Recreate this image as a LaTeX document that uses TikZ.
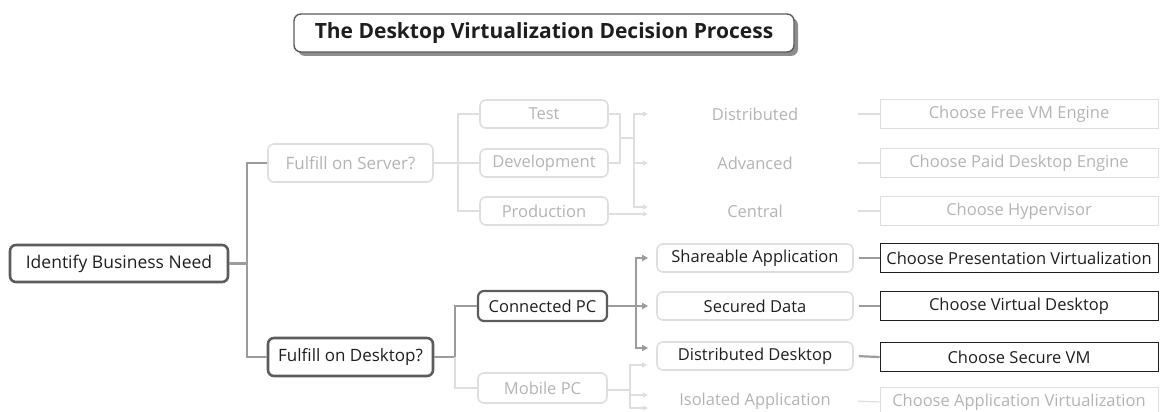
\documentclass[tikz,border=0pt]{standalone}
\usepackage{fontspec}
\setmainfont{Open Sans}
\usetikzlibrary{arrows.meta,shadows}
\definecolor{ink}{HTML}{1E1E1E}
\definecolor{frame}{HTML}{5C5C5C}
\definecolor{wirec}{HTML}{9C9C9C}
\definecolor{pale}{HTML}{DEDEDE}
\definecolor{paletext}{HTML}{B3B3B3}
\tikzset{
 box/.style={rounded corners=6pt,align=center,inner sep=0pt,font=\fontsize{16.5}{19}\selectfont},
 hub/.style={box,draw=frame,line width=2.6pt,text=ink},
 opt/.style={box,draw=pale,line width=1.6pt,text=ink,minimum width=196pt,minimum height=28pt},
 faint/.style={box,draw=pale,line width=1.6pt,text=paletext},
 ghost/.style={box,text=paletext,minimum width=196pt,minimum height=28pt},
 pick/.style={draw=ink,line width=0.9pt,minimum width=278pt,minimum height=29pt,inner sep=0pt,font=\fontsize{16.5}{19}\selectfont,text=ink},
 pickfaint/.style={pick,draw=pale,text=paletext},
 wire/.style={draw=wirec,line width=2.2pt},
 wirefaint/.style={draw=pale,line width=1.2pt},
 arr/.style={wire,-{Triangle[length=6pt,width=6pt]},shorten >=8pt},
 arrfaint/.style={wirefaint,-{Triangle[length=5pt,width=5pt]},shorten >=9pt}}
\begin{document}
\begin{tikzpicture}[x=1pt,y=-1pt]
\useasboundingbox (0,0) rectangle (1160,412);
\node[draw=frame,line width=1.4pt,rounded corners=7pt,fill=white,minimum width=500pt,minimum height=38pt,drop shadow={shadow xshift=4pt,shadow yshift=-4pt,fill=frame!70,opacity=1},font=\bfseries\fontsize{21}{24}\selectfont,text=ink] (title) at (544,33) {The Desktop Virtualization Decision Process};

\node[hub,minimum width=218pt,minimum height=37pt,font=\fontsize{17.5}{20}\selectfont] (need) at (119,263.5) {Identify Business Need};
\node[faint,minimum width=165pt,minimum height=38pt,font=\fontsize{17}{20}\selectfont] (server) at (350.5,163) {Fulfill on Server?};
\node[hub,minimum width=165pt,minimum height=38pt,font=\fontsize{17}{20}\selectfont] (desktop) at (350.5,357) {Fulfill on Desktop?};

\node[faint,minimum width=128pt,minimum height=28pt] (test) at (544,114) {Test};
\node[faint,minimum width=128pt,minimum height=28pt] (devel) at (544,163) {Development};
\node[faint,minimum width=128pt,minimum height=28pt] (prod) at (544,211) {Production};
\node[ghost] (distr) at (755,114) {Distributed};
\node[ghost] (adv) at (755,163) {Advanced};
\node[ghost] (central) at (755,211) {Central};
\node[pickfaint] (freevm) at (1019,114) {Choose Free VM Engine};
\node[pickfaint] (paid) at (1019,163) {Choose Paid Desktop Engine};
\node[pickfaint] (hyper) at (1019,211) {Choose Hypervisor};

\node[hub,line width=2.2pt,minimum width=129pt,minimum height=30pt] (conn) at (542.5,306) {Connected PC};
\node[faint,minimum width=129pt,minimum height=30pt] (mobile) at (542.5,388) {Mobile PC};
\node[opt] (share) at (755,258) {Shareable Application};
\node[opt] (secured) at (755,306) {Secured Data};
\node[opt] (ddesk) at (755,356) {Distributed Desktop};
\node[ghost] (isolated) at (755,401) {Isolated Application};
\node[pick] (present) at (1019,258) {Choose Presentation Virtualization};
\node[pick] (vdesk) at (1019,306) {Choose Virtual Desktop};
\node[pick] (securevm) at (1019,357) {Choose Secure VM};
\node[pickfaint] (appvirt) at (1019,402) {Choose Application Virtualization};

\coordinate (rootfork) at (247,263.5);
\coordinate (srvsplit) at (458,163);
\coordinate (dsksplit) at (455,357);
\coordinate (srvjoin) at (620,138);
\coordinate (srvfork) at (634,138);
\coordinate (connfork) at (636,306);
\coordinate (mobfork) at (630,390);

\draw[wire] (need.east) -- (rootfork);
\draw[wire] (rootfork) |- (server.west);
\draw[wire] (rootfork) |- (desktop.west);

\draw[wirefaint] (server.east) -- (srvsplit);
\draw[wirefaint] (srvsplit) |- (test.west);
\draw[wirefaint] (srvsplit) -- (devel.west);
\draw[wirefaint] (srvsplit) |- (prod.west);
\draw[wirefaint] (test.east) -| (srvjoin);
\draw[wirefaint] (devel.east) -| (srvjoin);
\draw[wirefaint] (srvjoin) -- (srvfork);
\draw[arrfaint] (srvfork) |- (distr.west);
\draw[arrfaint] (srvfork) |- (adv.west);
\draw[arrfaint] (srvfork) |- ([yshift=4pt]central.west);
\draw[arrfaint] ([yshift=-3pt]prod.east) -- ([yshift=-3pt]central.west);
\draw[wirefaint,shorten <=5pt] (distr.east) -- (freevm.west);
\draw[wirefaint,shorten <=5pt] (adv.east) -- (paid.west);
\draw[wirefaint,shorten <=5pt] (central.east) -- (hyper.west);

\draw[wire] (desktop.east) -- (dsksplit);
\draw[wire] (dsksplit) |- (conn.west);
\draw[wirefaint] (dsksplit) |- (mobile.west);
\draw[wire] (conn.east) -- (connfork);
\draw[arr] (connfork) |- (share.west);
\draw[arr] (connfork) -- (secured.west);
\draw[arr] (connfork) |- ([yshift=8pt]ddesk.west);
\draw[wirefaint] ([yshift=-2pt]mobile.east) -- (mobfork);
\draw[arrfaint] (mobfork) |- ([yshift=-9pt]ddesk.west);
\draw[arrfaint] (mobfork) |- ([yshift=6pt]isolated.west);
\draw[arrfaint] (mobfork) |- ([yshift=-7pt]isolated.west);
\draw[wire,shorten <=5pt] (share.east) -- (present.west);
\draw[wire,shorten <=5pt] (secured.east) -- (vdesk.west);
\draw[wire,shorten <=5pt] (ddesk.east) -- (securevm.west);
\draw[wirefaint,shorten <=5pt] (isolated.east) -- (appvirt.west);
\end{tikzpicture}
\end{document}
